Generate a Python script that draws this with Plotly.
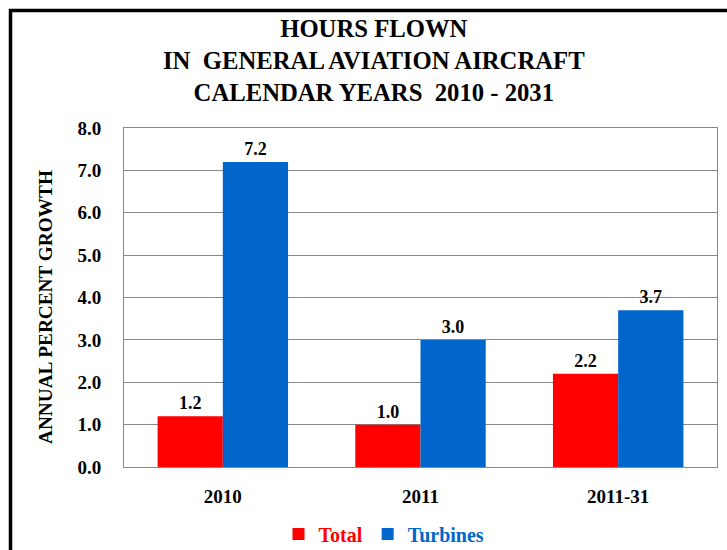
import plotly.graph_objects as go

categories = ["2010", "2011", "2011-31"]
total_growth = [1.2, 1.0, 2.2]
turbine_growth = [7.2, 3.0, 3.7]
y_ticks = [0, 1, 2, 3, 4, 5, 6, 7, 8]

FONT = "Times New Roman, Liberation Serif, DejaVu Serif, serif"
W, H = 727, 550
ML, MR, MT, MB = 124, 10, 128, 83

fig = go.Figure()
fig.add_trace(go.Bar(
    x=categories, y=total_growth,
    name='<span style="color:#FF0000"><b>Total</b></span>',
    marker=dict(color="#FF0000", line=dict(width=0)),
    texttemplate="<b>%{y:.1f}</b>", textposition="outside",
    textfont=dict(family=FONT, size=18, color="black"),
    cliponaxis=False,
))
fig.add_trace(go.Bar(
    x=categories, y=turbine_growth,
    name='<span style="color:#0066CC"><b>Turbines</b></span>',
    marker=dict(color="#0066CC", line=dict(width=0)),
    texttemplate="<b>%{y:.1f}</b>", textposition="outside",
    textfont=dict(family=FONT, size=18, color="black"),
    cliponaxis=False,
))

# outer frame around the chart (right and bottom edges run past the page)
pw, ph = W - ML - MR, H - MT - MB
fig.add_shape(
    type="rect", xref="paper", yref="paper",
    x0=(10.5 - ML) / pw, x1=(W + 20 - ML) / pw,
    y0=-(MB + 20) / ph, y1=(H - 10.5 - MB) / ph,
    line=dict(color="black", width=3.5), fillcolor="rgba(0,0,0,0)",
    layer="above",
)

# three-line heading
fig.add_annotation(
    text="<b>HOURS FLOWN<br>IN  GENERAL AVIATION AIRCRAFT<br>CALENDAR YEARS  2010 - 2031</b>",
    xref="paper", yref="paper", x=(374 - ML) / pw, xanchor="center",
    y=(H - 60 - MB) / ph, yanchor="middle", showarrow=False,
    font=dict(family=FONT, size=24.7, color="black"),
)

# vertical axis caption
fig.add_annotation(
    text="<b>ANNUAL PERCENT GROWTH</b>", textangle=-90,
    xref="paper", yref="paper", x=(45 - ML) / pw, xanchor="center",
    y=(H - 307 - MB) / ph, yanchor="middle", showarrow=False,
    font=dict(family=FONT, size=19.3, color="black"),
)

fig.update_layout(
    width=W, height=H,
    margin=dict(l=ML, r=MR, t=MT, b=MB, autoexpand=False),
    paper_bgcolor="white", plot_bgcolor="white",
    barmode="group", bargap=0.34, bargroupgap=0,
    font=dict(family=FONT, color="black"),
    xaxis=dict(
        showgrid=False, showline=True, linecolor="#888888", linewidth=1, mirror=True,
        tickfont=dict(family=FONT, size=19, color="black"),
        ticks="", ticklabelstandoff=12,
        tickvals=categories, ticktext=[f"<b>{c}</b>" for c in categories],
    ),
    yaxis=dict(
        range=[0, 8], tickvals=y_ticks,
        ticktext=[f"<b>{v:.1f}</b>" for v in y_ticks],
        showgrid=True, gridcolor="#888888", gridwidth=1,
        showline=True, linecolor="#888888", linewidth=1, mirror=True,
        zeroline=False, ticks="", ticklabelstandoff=18,
        tickfont=dict(family=FONT, size=19, color="black"),
    ),
    legend=dict(
        orientation="h", x=(384 - ML) / pw, xanchor="center",
        yref="container", y=16 / H, yanchor="middle",
        font=dict(family=FONT, size=20), tracegroupgap=0,
        itemwidth=30,
    ),
    showlegend=True,
)

fig.write_html("out.html")
